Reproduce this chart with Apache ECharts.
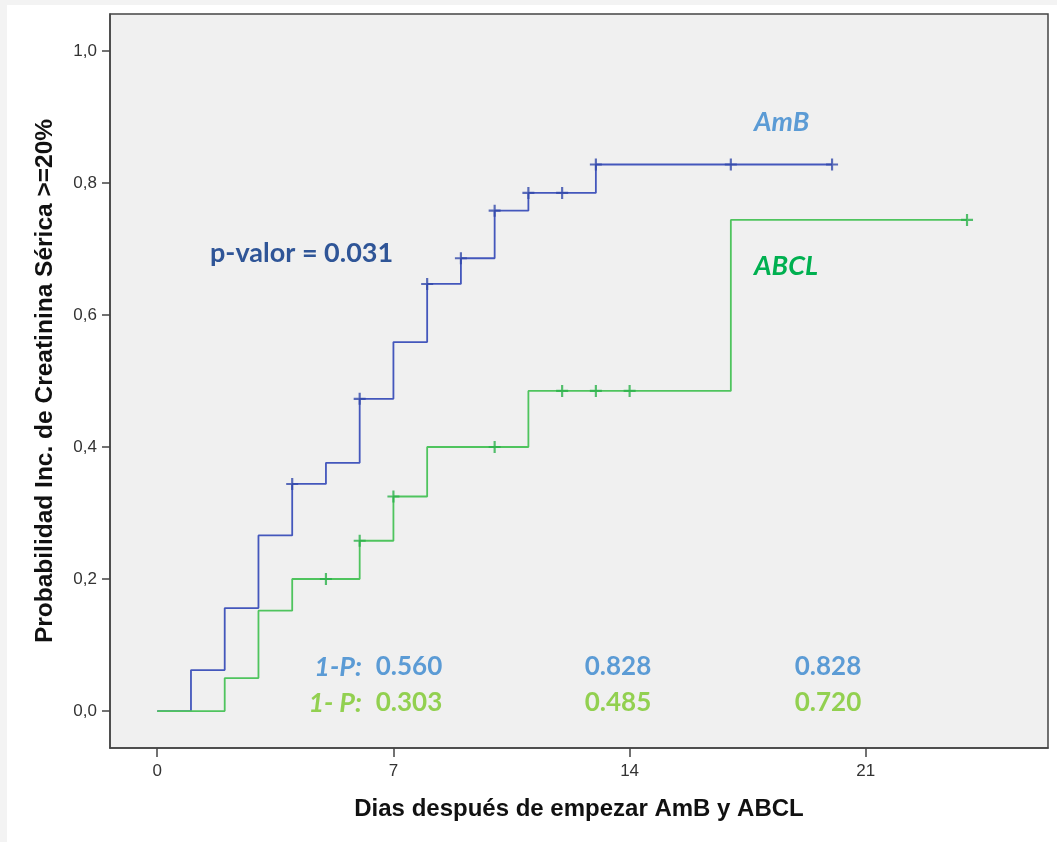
<!DOCTYPE html>
<html>
<head>
<meta charset="utf-8">
<script src="https://cdn.jsdelivr.net/npm/echarts@6/dist/echarts.min.js"></script>
<style>
  html, body { margin: 0; padding: 0; background: #fff; }
  #chart { width: 1057px; height: 842px; }
</style>
</head>
<body>
<div id="chart"></div>
<script>
// Kaplan-Meier (1 - P) curves, days after starting treatment
const xTicks = [0, 7, 14, 21]
const yTicks = [0, 0.2, 0.4, 0.6, 0.8, 1.0]

const ambTime = [0, 1, 2, 3, 4, 5, 6, 7, 8, 9, 10, 11, 13, 20]
const ambProb = [0, 0.062, 0.156, 0.266, 0.344, 0.376, 0.473, 0.559, 0.647, 0.686, 0.758, 0.785, 0.828, 0.828]
const ambCensTime = [4, 6, 8, 9, 10, 11, 12, 13, 17, 20]
const ambCensProb = [0.344, 0.473, 0.647, 0.686, 0.758, 0.785, 0.785, 0.828, 0.828, 0.828]

const abclTime = [0, 2, 3, 4, 6, 7, 8, 11, 17, 24]
const abclProb = [0, 0.05, 0.152, 0.2, 0.258, 0.325, 0.4, 0.485, 0.744, 0.744]
const abclCensTime = [5, 6, 7, 10, 12, 13, 14, 24]
const abclCensProb = [0.2, 0.258, 0.325, 0.4, 0.485, 0.485, 0.485, 0.744]

const ambValues = ['0.560', '0.828', '0.828']
const abclValues = ['0.303', '0.485', '0.720']

const pair = (xs, ys) => xs.map((x, i) => [x, ys[i]])

const plus = 'path://M-0.9,-5L0.9,-5L0.9,-0.9L5,-0.9L5,0.9L0.9,0.9L0.9,5L-0.9,5L-0.9,0.9L-5,0.9L-5,-0.9L-0.9,-0.9Z'

const blueLine = '#4457bc'
const greenLine = '#4fc45e'
const txtFont = 'Lato, "Open Sans", sans-serif'

const chart = echarts.init(document.getElementById('chart'))

const valueCols = [409, 618, 828]
const graphicTexts = [
  { type: 'rect', shape: { x: 0, y: 0, width: 7, height: 842 }, style: { fill: '#f3f3f3' }, silent: true },
  { type: 'rect', shape: { x: 0, y: 0, width: 1057, height: 5 }, style: { fill: '#f3f3f3' }, silent: true },
  { type: 'text', left: 754, top: 109, style: { text: 'AmB', fill: '#5b9bd5', font: 'italic bold 27px ' + txtFont } },
  { type: 'text', left: 754, top: 253, style: { text: 'ABCL', fill: '#00b050', font: 'italic bold 27px ' + txtFont } },
  { type: 'text', left: 210, top: 240, style: { text: 'p-valor = 0.031', fill: '#2f5597', font: 'bold 27px ' + txtFont } },
  { type: 'text', x: 362, y: 667, style: { text: '1-P:', fill: '#5b9bd5', font: 'italic bold 27px ' + txtFont, textAlign: 'right', textVerticalAlign: 'middle' } },
  { type: 'text', x: 362, y: 703, style: { text: '1- P:', fill: '#92d050', font: 'italic bold 27px ' + txtFont, textAlign: 'right', textVerticalAlign: 'middle' } },
]
ambValues.forEach((v, i) => {
  graphicTexts.push({ type: 'text', x: valueCols[i], y: 667, style: { text: v, fill: '#5b9bd5', font: 'bold 26px ' + txtFont, textAlign: 'center', textVerticalAlign: 'middle' } })
})
abclValues.forEach((v, i) => {
  graphicTexts.push({ type: 'text', x: valueCols[i], y: 703, style: { text: v, fill: '#92d050', font: 'bold 26px ' + txtFont, textAlign: 'center', textVerticalAlign: 'middle' } })
})

chart.setOption({
  animation: false,
  backgroundColor: '#fff',
  grid: {
    left: 110, top: 14, right: 9, bottom: 94,
    show: true, backgroundColor: '#f0f0f0', borderColor: '#444', borderWidth: 1.5,
  },
  xAxis: {
    type: 'value',
    min: -1.4,
    max: 26.4,
    name: 'Dias después de empezar AmB y ABCL',
    nameLocation: 'middle',
    nameGap: 49,
    nameTextStyle: { fontFamily: 'Liberation Sans, Arial', fontWeight: 'bold', fontSize: 24, color: '#111' },
    axisLine: { onZero: false, lineStyle: { color: '#444', width: 1.5 } },
    axisTick: { customValues: xTicks, length: 9, lineStyle: { color: '#444', width: 1.5 } },
    axisLabel: { customValues: xTicks, margin: 15, fontSize: 17, color: '#333', fontFamily: 'Liberation Sans, Arial' },
    splitLine: { show: false },
  },
  yAxis: {
    type: 'value',
    min: -0.056,
    max: 1.056,
    name: 'Probabilidad Inc. de Creatinina Sérica >=20%',
    nameLocation: 'middle',
    nameGap: 52,
    nameTextStyle: { fontFamily: 'Liberation Sans, Arial', fontWeight: 'bold', fontSize: 24.5, color: '#111' },
    axisLine: { onZero: false, lineStyle: { color: '#444', width: 1.5 } },
    axisTick: { customValues: yTicks, length: 8, lineStyle: { color: '#444', width: 1.5 } },
    axisLabel: {
      customValues: yTicks, margin: 13, fontSize: 17, color: '#333', fontFamily: 'Liberation Sans, Arial',
      formatter: (v) => v.toFixed(1).replace('.', ','),
    },
    splitLine: { show: false },
  },
  graphic: graphicTexts,
  series: [
    {
      name: 'AmB',
      type: 'line',
      step: 'end',
      data: pair(ambTime, ambProb),
      showSymbol: false,
      lineStyle: { color: blueLine, width: 1.8 },
      z: 2,
    },
    {
      name: 'AmB censurados',
      type: 'scatter',
      data: pair(ambCensTime, ambCensProb),
      symbol: plus,
      symbolSize: [12, 12],
      itemStyle: { color: '#3248aa' },
      z: 3,
    },
    {
      name: 'ABCL',
      type: 'line',
      step: 'end',
      data: pair(abclTime, abclProb),
      showSymbol: false,
      lineStyle: { color: greenLine, width: 1.8 },
      z: 4,
    },
    {
      name: 'ABCL censurados',
      type: 'scatter',
      data: pair(abclCensTime, abclCensProb),
      symbol: plus,
      symbolSize: [12, 12],
      itemStyle: { color: '#2bb24a' },
      z: 5,
    },
  ],
})
</script>
</body>
</html>
